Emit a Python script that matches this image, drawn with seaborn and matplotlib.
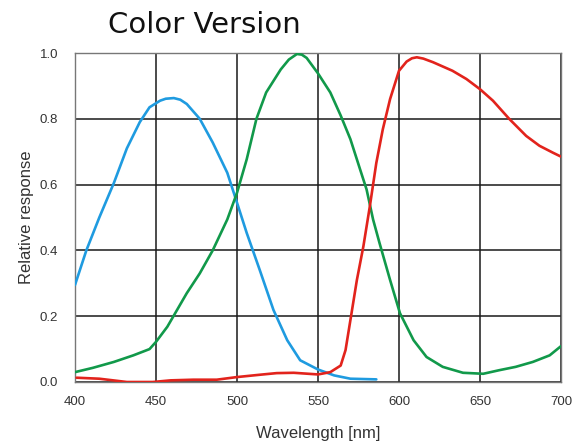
import numpy as np
import pandas as pd
import matplotlib
matplotlib.use("Agg")
import matplotlib.pyplot as plt
import seaborn as sns

# ── data ──
blue_nm = [400, 407, 415, 424, 432, 440, 446, 452.5, 456, 461, 465, 469, 477, 485, 494, 500,
           506, 514, 522.5, 531, 539, 550, 560, 570, 586]
blue_val = [0.295, 0.40, 0.50, 0.605, 0.71, 0.79, 0.835, 0.855, 0.861, 0.863, 0.858, 0.845,
            0.80, 0.728, 0.636, 0.545, 0.453, 0.341, 0.219, 0.127, 0.066, 0.038, 0.02,
            0.01, 0.008]

green_nm = [400, 411, 424, 436, 446, 450, 457, 463, 469, 477, 485, 494, 500, 506, 512,
            518, 527, 532, 537, 540, 543, 550, 557.6, 564, 570, 576, 580, 584, 588, 594.5,
            600.6, 609, 617, 627, 639.5, 652, 662, 672, 682.6, 693, 700]
green_val = [0.03, 0.043, 0.061, 0.081, 0.10, 0.122, 0.168, 0.219, 0.27, 0.33, 0.40,
             0.494, 0.575, 0.677, 0.80, 0.88, 0.95, 0.98, 0.997, 0.995, 0.985, 0.938,
             0.88, 0.81, 0.738, 0.646, 0.585, 0.494, 0.422, 0.31, 0.209, 0.127, 0.076,
             0.046, 0.028, 0.025, 0.036, 0.046, 0.061, 0.081, 0.109]

red_nm = [401, 415, 432, 448, 459, 473, 487.5, 500, 514, 524.5, 535, 550, 557.6, 564,
          567, 570, 574, 578, 582, 586, 590, 594.5, 600, 604.7, 608, 611, 615, 621, 633,
          641.6, 650, 658, 668, 678.5, 686.7, 695, 700]
red_val = [0.013, 0.01, 0.0, 0.0, 0.005, 0.007, 0.007, 0.015, 0.022, 0.027, 0.028,
           0.023, 0.03, 0.05, 0.097, 0.188, 0.31, 0.412, 0.534, 0.666, 0.768, 0.86,
           0.946, 0.974, 0.984, 0.987, 0.983, 0.972, 0.946, 0.921, 0.89, 0.855, 0.80,
           0.748, 0.718, 0.697, 0.685]

x_ticks = [400, 450, 500, 550, 600, 650, 700]
y_ticks = [0.0, 0.2, 0.4, 0.6, 0.8, 1.0]

sns.set_style("white")
plt.rcParams['font.family'] = ['Liberation Sans', 'DejaVu Sans']

fig = plt.figure(figsize=(5.81, 4.41), dpi=100)
ax = fig.add_axes([75 / 581, 1 - 382 / 441, 486 / 581, 329 / 441])

for xs, ys, c in [(blue_nm, blue_val, '#1f9be0'),
                  (green_nm, green_val, '#11994a'),
                  (red_nm, red_val, '#e2231c')]:
    sns.lineplot(x=xs, y=ys, color=c, lw=1.9, ax=ax, zorder=3)

ax.set_xlim(400, 700)
ax.set_ylim(0, 1)
ax.set_xticks(x_ticks)
ax.set_yticks(y_ticks)
ax.set_yticklabels([f"{v:.1f}" for v in y_ticks])
ax.grid(True, color='#1a1a1a', lw=1.1)
for s in ax.spines.values():
    s.set_color('#777777')
    s.set_linewidth(1.0)
ax.tick_params(axis='both', length=0, labelsize=9.5, colors='#333333')
ax.tick_params(axis='x', pad=10)
ax.tick_params(axis='y', pad=12)

ax.set_xlabel('Wavelength [nm]', fontsize=12, color='#333333', labelpad=13)
ax.set_ylabel('Relative response', fontsize=12, color='#333333', labelpad=4)
fig.text(108 / 581, 1 - 33 / 441, 'Color Version', fontsize=21, family='DejaVu Sans',
         color='#111111', ha='left', va='baseline')

fig.savefig('out.png', dpi=100)
